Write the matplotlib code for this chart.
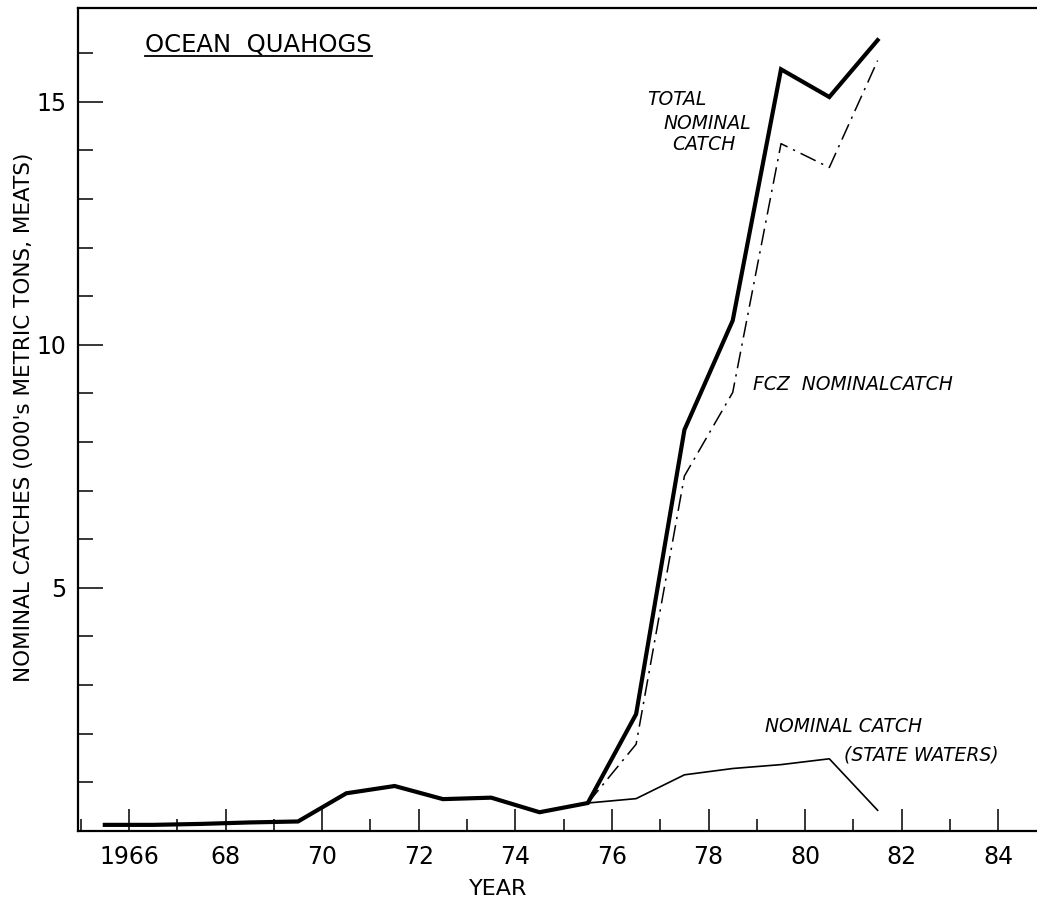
import matplotlib
matplotlib.use('Agg')
import matplotlib.pyplot as plt
from matplotlib.ticker import MultipleLocator, FixedLocator
from matplotlib.lines import Line2D

# catches in 000's metric tons (meats), plotted at mid-year
years = list(range(1965, 1982))
total_catch = [0.12, 0.12, 0.14, 0.17, 0.19, 0.77, 0.92, 0.65, 0.68, 0.38,
               0.57, 2.4, 8.25, 10.5, 15.67, 15.1, 16.27]

split_years = list(range(1975, 1982))
fcz_catch = [0.57, 1.78, 7.3, 9.02, 14.14, 13.65, 15.85]
state_catch = [0.57, 0.66, 1.15, 1.28, 1.36, 1.48, 0.42]

major_years = list(range(1966, 1985, 2))
year_labels = ['1966'] + [str(y)[2:] for y in major_years[1:]]
y_major = [5, 10, 15]

plt.rcParams['font.family'] = ['DejaVu Sans']

fig = plt.figure(figsize=(10.37, 9), dpi=100)
ax = fig.add_axes([0.075, 0.077, 0.925, 0.914])

x_total = [y + 0.5 for y in years]
x_split = [y + 0.5 for y in split_years]

ax.plot(x_total, total_catch, color='black', lw=3.0, solid_joinstyle='miter')
ax.plot(x_split, fcz_catch, color='black', lw=1.1, dashes=[11, 4, 1.5, 4])
ax.plot(x_split, state_catch, color='black', lw=1.2)

ax.set_xlim(1964.94, 1984.8)
ax.set_ylim(0, 16.93)

ax.xaxis.set_major_locator(FixedLocator(major_years))
ax.xaxis.set_minor_locator(MultipleLocator(1))
ax.set_xticklabels(year_labels)
ax.yaxis.set_major_locator(FixedLocator(y_major))
ax.yaxis.set_minor_locator(MultipleLocator(1))

ax.tick_params(axis='x', which='major', direction='in', length=16, width=1.1,
               pad=10, labelsize=17)
ax.tick_params(axis='x', which='minor', direction='in', length=9, width=1.1)
ax.tick_params(axis='y', which='major', direction='in', length=18, width=1.1,
               pad=8, labelsize=17)
ax.tick_params(axis='y', which='minor', direction='in', length=11, width=1.1)

for side in ['left', 'top', 'bottom']:
    ax.spines[side].set_linewidth(1.6)
ax.spines['right'].set_visible(False)

ax.set_ylabel("NOMINAL CATCHES (000's METRIC TONS, MEATS)", fontsize=15.5)
ax.yaxis.set_label_coords(-0.046, 0.502)
ax.text(1973.65, -0.0705, 'YEAR', transform=ax.get_xaxis_transform(),
        ha='center', va='center', fontsize=16)

title = ax.text(1966.33, 16.17, 'OCEAN  QUAHOGS', fontsize=17.5, ha='left',
                va='center')

note = dict(fontsize=13.5, style='italic', ha='left', va='center')
ax.text(1976.72, 15.04, 'TOTAL', **note)
ax.text(1977.06, 14.55, 'NOMINAL', **note)
ax.text(1977.24, 14.12, 'CATCH', **note)
ax.text(1978.92, 9.18, 'FCZ  NOMINALCATCH', **note)
ax.text(1979.17, 2.14, 'NOMINAL CATCH', **note)
ax.text(1980.8, 1.56, '(STATE WATERS)', **note)

# underline the title
fig.canvas.draw()
bb = title.get_window_extent(fig.canvas.get_renderer())
inv = fig.transFigure.inverted()
(x0, y0), (x1, _) = inv.transform([(bb.x0, bb.y0 + 1), (bb.x1, bb.y0)])
fig.add_artist(Line2D([x0, x1], [y0, y0], color='black', lw=1.3))

fig.savefig('out.png', dpi=100)
